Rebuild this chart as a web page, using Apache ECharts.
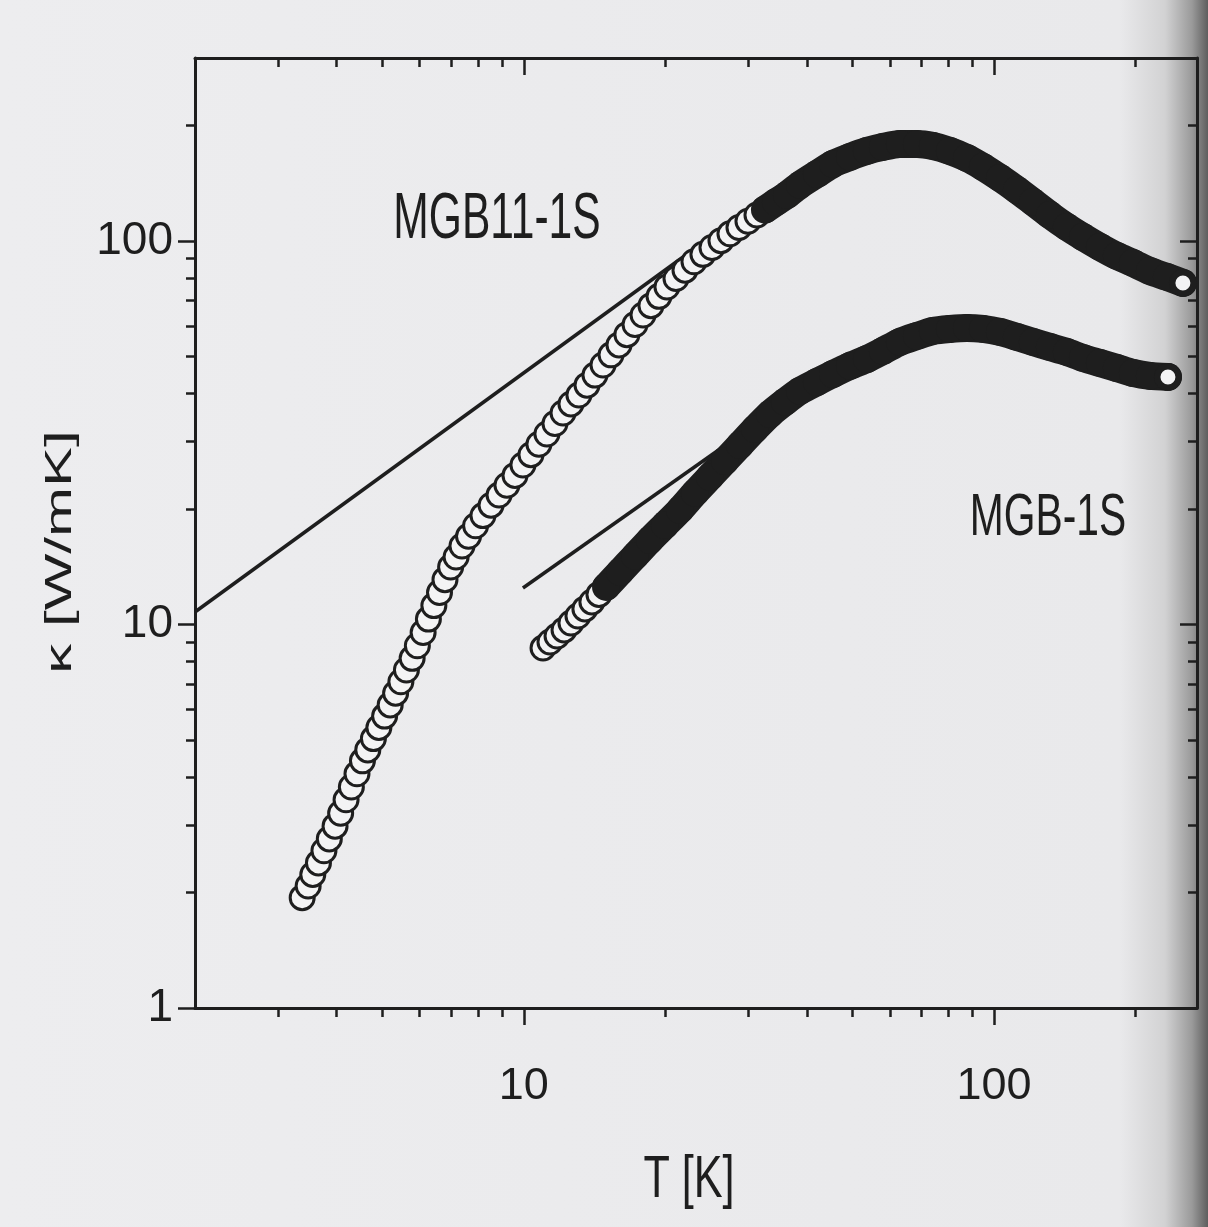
<!DOCTYPE html>
<html>
<head>
<meta charset="utf-8">
<script src="https://cdn.jsdelivr.net/npm/echarts@6/dist/echarts.min.js"></script>
<style>
html,body{margin:0;padding:0;}
body{width:1208px;height:1227px;overflow:hidden;
background:linear-gradient(to right,#ededef 0px,#e9e9eb 1120px,#d2d2d3 1165px,#9a9a9a 1192px,#5e5e5e 1208px);}
#chart{width:1208px;height:1227px;}
</style>
</head>
<body>
<div id="chart"></div>
<script>
// ---- tick values ----
const xMajorTicks = [10, 100];
const xMinorTicks = [3, 4, 5, 6, 7, 8, 9, 20, 30, 40, 50, 60, 70, 80, 90, 200];
const yMajorTicks = [1, 10, 100];
const yMinorTicks = [2, 3, 4, 5, 6, 7, 8, 9, 20, 30, 40, 50, 60, 70, 80, 90, 200];

// ---- MGB11-1S : [T (K), kappa (W/mK)] ----
const mgb11Sparse = [
  [3.38,1.94],[3.48,2.08],[3.56,2.23],[3.66,2.39],[3.76,2.57],[3.86,2.76],[3.97,2.98],[4.08,3.22],
  [4.19,3.49],[4.30,3.77],[4.42,4.08],[4.54,4.41],[4.66,4.71],[4.79,5.04],[4.92,5.39],[5.06,5.77],
  [5.20,6.17],[5.34,6.62],[5.48,7.09],[5.63,7.61],[5.79,8.16],[5.94,8.80],[6.11,9.53],[6.27,10.33],
  [6.44,11.20],[6.62,12.12],[6.80,13.09],[6.99,14.12],[7.18,15.00],[7.39,16.02],[7.63,16.98],[7.90,18.09],
  [8.19,19.23],[8.52,20.47],[8.86,21.75],[9.21,23.07],[9.58,24.48],[9.96,26.06],[10.36,27.72],[10.77,29.51],
  [11.20,31.39],[11.65,33.43],[12.12,35.61],[12.60,37.59],[13.10,39.65],[13.63,42.08],[14.17,44.70],[14.74,47.50],
  [15.33,50.47],[15.94,53.59],[16.57,56.98],[17.24,60.58],[17.93,64.13],[18.64,67.82],[19.39,71.71],[20.16,75.87],
  [21.07,79.80],[22.02,83.93],[23.01,88.27],[24.04,92.28],[25.13,96.18],[26.26,100.2],[27.44,104.4],[28.68,108.4],
  [29.97,112.6],[31.32,116.9]
];
const mgb11Dense = [
  [32.57,120.7],[34.37,126.2],[36.27,131.8],[38.66,140.0],[42.01,149.5],[45.43,158.8],[49.38,165.6],
  [53.66,171.7],[58.03,175.9],[63.07,179.1],[68.54,179.1],[74.13,176.9],[80.56,171.7],[87.55,164.6],
  [94.68,156.0],[102.9,146.0],[111.8,135.9],[120.9,126.4],[131.4,116.9],[142.8,108.8],[154.5,102.4],
  [167.9,96.47],[182.4,91.40],[197.3,87.64],[214.4,83.53],[233.0,80.57],[252.0,77.72]
];

// ---- MGB-1S : [T (K), kappa (W/mK)] ----
const mgb1Sparse = [
  [10.99,8.68],[11.37,9.00],[11.77,9.33],[12.18,9.68],[12.60,10.09],[13.04,10.52],[13.49,10.98],
  [13.96,11.45],[14.45,11.98]
];
const mgb1Dense = [
  [14.96,12.53],[16.02,13.71],[17.24,15.09],[18.55,16.61],[19.96,18.17],[21.48,19.89],[23.12,22.03],
  [24.88,24.25],[26.78,26.69],[28.82,29.38],[31.01,32.34],[33.38,35.39],[35.92,38.04],[38.66,40.64],
  [42.01,42.89],[45.43,45.00],[49.38,47.22],[53.66,49.24],[58.03,51.67],[63.07,54.54],[68.54,56.54],
  [74.13,58.26],[80.56,58.96],[87.55,59.32],[94.68,58.96],[102.9,57.91],[111.8,56.20],[120.9,54.54],
  [131.4,52.92],[142.8,51.36],[154.5,49.54],[167.9,48.08],[182.4,46.65],[197.3,45.27],[214.4,44.47],
  [234.2,44.20]
];

// ---- straight reference lines ----
const fitMGB11 = [[2, 10.78], [29.53, 119.0]];
const fitMGB1 = [[9.96, 12.45], [27.44, 29.92]];

// ---- texts ----
const sampleNames = ['MGB11-1S', 'MGB-1S'];
const xTitle = 'T [K]';
const yTitle = 'κ [W/mK]';

const INK = '#1e1e1e';
const PAPER = '#f3f3f4';
const FONT = '"Liberation Sans", Arial, Helvetica, sans-serif';

function xAxisDef(position, major) {
  return {
    type: 'log', logBase: 10, min: 2, max: 270, position: position, gridIndex: 0,
    axisLine: { show: major, lineStyle: { color: INK, width: 3 } },
    axisTick: {
      show: true, inside: position === 'top', length: major ? 17 : 9,
      customValues: major ? xMajorTicks : xMinorTicks,
      lineStyle: { color: INK, width: 2.5 }
    },
    axisLabel: {
      show: major && position === 'bottom', customValues: xMajorTicks,
      margin: 56, color: INK, fontSize: 45, fontFamily: FONT
    },
    splitLine: { show: false }, minorTick: { show: false }, minorSplitLine: { show: false }
  };
}
function yAxisDef(position, major) {
  return {
    type: 'log', logBase: 10, min: 1, max: 300, position: position, gridIndex: 0,
    axisLine: { show: major, lineStyle: { color: INK, width: 3 } },
    axisTick: {
      show: true, inside: position === 'right', length: major ? 17 : 9,
      customValues: major ? yMajorTicks : yMinorTicks,
      lineStyle: { color: INK, width: 2.5 }
    },
    axisLabel: {
      show: major && position === 'left', customValues: yMajorTicks,
      margin: 22, color: INK, fontSize: 46, fontFamily: FONT
    },
    splitLine: { show: false }, minorTick: { show: false }, minorSplitLine: { show: false }
  };
}

const sparseStyle = { color: PAPER, borderColor: INK, borderWidth: 3, opacity: 1 };
const denseStyle = { color: INK, opacity: 1 };
const endStyle = { color: PAPER, borderColor: INK, borderWidth: 6, opacity: 1 };

function sampleSeries(name, sparse, dense) {
  return [
    { name: name, type: 'scatter', data: sparse, symbol: 'circle', symbolSize: 24,
      itemStyle: sparseStyle, z: 3, silent: true },
    // densely packed points merge into a solid band
    { name: name, type: 'line', data: dense, symbol: 'none', smooth: 0.25,
      lineStyle: { color: INK, width: 28, cap: 'round', join: 'round' }, z: 3, silent: true },
    { name: name, type: 'scatter', data: dense, symbol: 'circle', symbolSize: 28,
      itemStyle: denseStyle, z: 3, silent: true },
    { name: name, type: 'scatter', data: [dense[dense.length - 1]], symbol: 'circle', symbolSize: 21,
      itemStyle: endStyle, z: 4, silent: true }
  ];
}

const chart = echarts.init(document.getElementById('chart'), null, { renderer: 'canvas' });
chart.setOption({
  animation: false,
  backgroundColor: 'transparent',
  grid: { left: 195, top: 58, width: 1002, height: 950, containLabel: false, show: false },
  xAxis: [xAxisDef('bottom', true), xAxisDef('bottom', false), xAxisDef('top', true), xAxisDef('top', false)],
  yAxis: [yAxisDef('left', true), yAxisDef('left', false), yAxisDef('right', true), yAxisDef('right', false)],
  series: [
    { type: 'line', data: fitMGB11, symbol: 'none', lineStyle: { color: INK, width: 3.5 }, z: 2, silent: true },
    { type: 'line', data: fitMGB1, symbol: 'none', lineStyle: { color: INK, width: 3.5 }, z: 2, silent: true }
  ].concat(sampleSeries(sampleNames[0], mgb11Sparse, mgb11Dense))
   .concat(sampleSeries(sampleNames[1], mgb1Sparse, mgb1Dense)),
  graphic: [
    { type: 'text', x: 497, y: 220, scaleX: 0.665, silent: true,
      style: { text: sampleNames[0], fontSize: 64, fontFamily: FONT, fill: INK,
               textAlign: 'center', align: 'center', textVerticalAlign: 'middle', verticalAlign: 'middle' } },
    { type: 'text', x: 1048, y: 518, scaleX: 0.68, silent: true,
      style: { text: sampleNames[1], fontSize: 60, fontFamily: FONT, fill: INK,
               textAlign: 'center', align: 'center', textVerticalAlign: 'middle', verticalAlign: 'middle' } },
    { type: 'text', x: 689, y: 1180, scaleX: 0.72, silent: true,
      style: { text: xTitle, fontSize: 60, fontFamily: FONT, fill: INK,
               textAlign: 'center', align: 'center', textVerticalAlign: 'middle', verticalAlign: 'middle' } },
    { type: 'text', x: 61, y: 552, rotation: Math.PI / 2, scaleY: 0.62, silent: true,
      style: { text: yTitle, fontSize: 60, fontFamily: FONT, fill: INK,
               textAlign: 'center', align: 'center', textVerticalAlign: 'middle', verticalAlign: 'middle' } }
  ]
});
</script>
</body>
</html>
